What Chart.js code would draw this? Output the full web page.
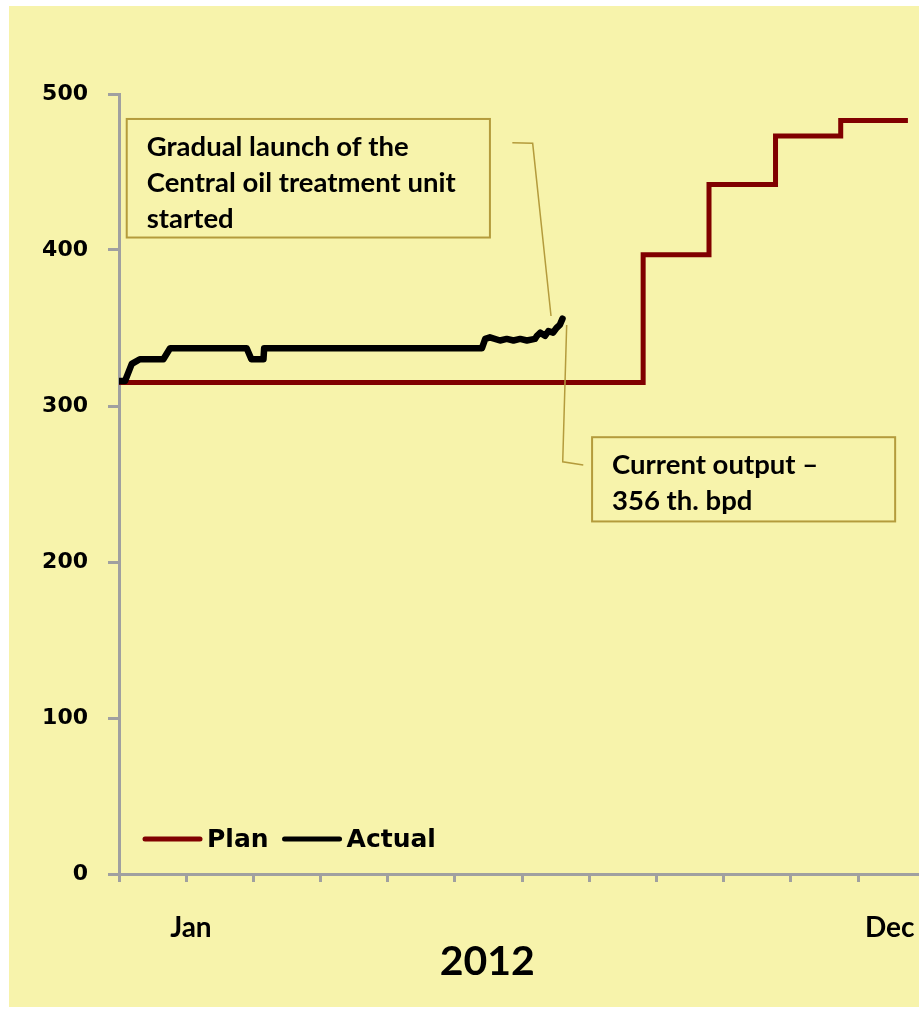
<!DOCTYPE html>
<html>
<head>
<meta charset="utf-8">
<script src="https://cdn.jsdelivr.net/npm/chart.js@4.4.1/dist/chart.umd.min.js"></script>
<style>
  html, body { margin: 0; padding: 0; background: #fff; overflow: hidden; }
  #panel { position: absolute; left: 9px; top: 6px; width: 910px; height: 1001px; background: #f7f3ab; }
  #chart { position: absolute; left: 0; top: 0; }
</style>
</head>
<body>
<div id="panel"></div>
<canvas id="chart" width="919" height="1012"></canvas>
<script>
// x values are months from the start of 2012 (0 = 1 Jan)
var planX = [0, 7.80, 8.78, 9.77, 10.74, 11.74];
var planY = [315, 397, 442, 473, 483, 483];

var actualX = [0.0, 0.09, 0.19, 0.31, 0.66, 0.76, 1.90, 1.97, 2.15, 2.16, 5.40, 5.45, 5.52, 5.67, 5.77,
               5.87, 5.97, 6.07, 6.19, 6.22, 6.27, 6.34, 6.39, 6.46, 6.51, 6.56, 6.60];
var actualY = [316, 316, 327, 330, 330, 337, 337, 330, 330, 337, 337, 343, 344, 342, 343,
               342, 343, 342, 343, 345, 347, 345, 348, 347, 350, 352, 356];

var monthTicks = [0, 1, 2, 3, 4, 5, 6, 7, 8, 9, 10, 11];
var xLabels = ['Jan', '2012', 'Dec'];
var xLabelAt = [1.07, 5.48, 11.47];
var yTicks = [0, 100, 200, 300, 400, 500];

var xMax = 11.905;

var notes = [
    {
        lines: ['Gradual launch of the', 'Central oil treatment unit', 'started'],
        box: [0.115, 484, 5.52, 408],
        leader: [[5.853, 468.8], [6.156, 468.4], [6.429, 357.7]]
    },
    {
        lines: ['Current output \u2013', '356 th. bpd'],
        box: [7.04, 280, 11.55, 226],
        leader: [[6.909, 262.2], [6.603, 264.2], [6.662, 351.9]]
    }
];

function toPoints(xs, ys) {
    return xs.map(function (x, i) { return { x: x, y: ys[i] }; });
}

var calloutPlugin = {
    id: 'callouts',
    afterDatasetsDraw: function (chart) {
        var ctx = chart.ctx, sx = chart.scales.x, sy = chart.scales.y;
        ctx.save();
        notes.forEach(function (n) {
            var x0 = sx.getPixelForValue(n.box[0]), y0 = sy.getPixelForValue(n.box[1]);
            var x1 = sx.getPixelForValue(n.box[2]), y1 = sy.getPixelForValue(n.box[3]);
            ctx.strokeStyle = '#b49b3c';
            ctx.lineWidth = 2;
            ctx.strokeRect(x0, y0, x1 - x0, y1 - y0);

            ctx.lineWidth = 1.5;
            ctx.beginPath();
            n.leader.forEach(function (p, i) {
                var px = sx.getPixelForValue(p[0]), py = sy.getPixelForValue(p[1]);
                if (i) ctx.lineTo(px, py); else ctx.moveTo(px, py);
            });
            ctx.stroke();

            ctx.fillStyle = '#000';
            ctx.font = 'bold 27.5px Lato';
            ctx.textBaseline = 'alphabetic';
            n.lines.forEach(function (t, i) {
                ctx.fillText(t, x0 + 20, y0 + 37 + i * 36);
            });
        });
        ctx.restore();
    }
};

var legendPlugin = {
    id: 'innerLegend',
    afterDraw: function (chart) {
        var ctx = chart.ctx, area = chart.chartArea;
        var x = area.left + 26, y = area.bottom - 35;
        ctx.save();
        ctx.font = 'bold 25px "DejaVu Sans"';
        ctx.textBaseline = 'middle';
        chart.data.datasets.forEach(function (ds) {
            ctx.strokeStyle = ds.borderColor;
            ctx.lineWidth = 5;
            ctx.lineCap = 'round';
            ctx.beginPath();
            ctx.moveTo(x, y);
            ctx.lineTo(x + 55, y);
            ctx.stroke();
            x += 62;
            ctx.fillStyle = '#000';
            ctx.fillText(ds.label, x, y + 1);
            x += ctx.measureText(ds.label).width + 16;
        });
        ctx.restore();
    }
};

var ctx = document.getElementById('chart').getContext('2d');

var chart = new Chart(ctx, {
    type: 'line',
    data: {
        datasets: [{
            label: 'Plan',
            data: toPoints(planX, planY),
            borderColor: '#800000',
            borderWidth: 5,
            stepped: true,
            pointRadius: 0,
            order: 1
        }, {
            label: 'Actual',
            data: toPoints(actualX, actualY),
            borderColor: '#000000',
            borderWidth: 6.5,
            borderJoinStyle: 'round',
            borderCapStyle: 'round',
            pointRadius: 0,
            tension: 0,
            order: 0
        }]
    },
    options: {
        responsive: false,
        animation: false,
        layout: { padding: { top: 94, left: 0, right: 0, bottom: 30 } },
        plugins: {
            legend: { display: false },
            tooltip: { enabled: false }
        },
        scales: {
            x: {
                type: 'linear',
                position: 'bottom',
                min: 0,
                max: xMax,
                weight: 0,
                afterBuildTicks: function (s) {
                    s.ticks = monthTicks.map(function (v) { return { value: v }; });
                },
                ticks: { display: false },
                grid: { drawOnChartArea: false, tickLength: 8, color: '#a0a0a0', lineWidth: 3 },
                border: { color: '#a0a0a0', width: 3 },
                afterFit: function (s) { s.height = 8; }
            },
            xl: {
                type: 'linear',
                position: 'bottom',
                min: 0,
                max: xMax,
                weight: 1,
                afterBuildTicks: function (s) {
                    s.ticks = xLabelAt.map(function (v) { return { value: v }; });
                },
                grid: { display: false, drawTicks: false },
                border: { display: false },
                ticks: {
                    autoSkip: false,
                    maxRotation: 0,
                    padding: 29,
                    color: '#000',
                    callback: function (value, index) {
                        return xLabels[index] === '2012' ? ['', xLabels[index]] : xLabels[index];
                    },
                    font: function (c) {
                        if (xLabels[c.index] === '2012') {
                            return { family: 'Lato', weight: 'bold', size: 41, lineHeight: 34 / 41 };
                        }
                        return { family: 'Lato', weight: 'bold', size: 28, lineHeight: 1.2 };
                    }
                },
                afterFit: function (s) {
                    s.height = 100;
                    s.paddingLeft = 0;
                    s.paddingRight = 0;
                }
            },
            y: {
                min: 0,
                max: 500,
                afterBuildTicks: function (s) {
                    s.ticks = yTicks.map(function (v) { return { value: v }; });
                },
                ticks: {
                    color: '#000',
                    padding: 20,
                    font: { family: 'DejaVu Sans', weight: 'bold', size: 22 }
                },
                grid: { drawOnChartArea: false, tickLength: 11, color: '#a0a0a0', lineWidth: 3 },
                border: { color: '#a0a0a0', width: 3 },
                afterFit: function (s) { s.width = 119; }
            }
        }
    },
    plugins: [calloutPlugin, legendPlugin]
});
</script>
</body>
</html>
